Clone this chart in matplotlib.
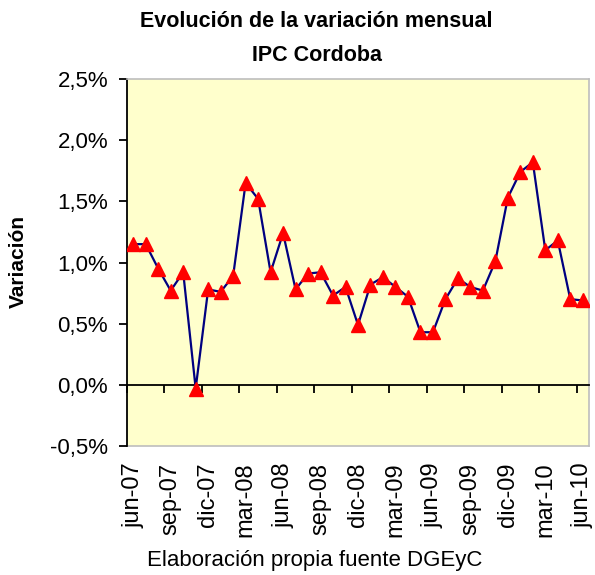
import matplotlib
matplotlib.use('Agg')
import matplotlib.pyplot as plt
import numpy as np
from matplotlib.ticker import FixedLocator, FuncFormatter

months = ['jun-07', 'jul-07', 'ago-07', 'sep-07', 'oct-07', 'nov-07', 'dic-07', 'ene-08', 'feb-08',
          'mar-08', 'abr-08', 'may-08', 'jun-08', 'jul-08', 'ago-08', 'sep-08', 'oct-08', 'nov-08',
          'dic-08', 'ene-09', 'feb-09', 'mar-09', 'abr-09', 'may-09', 'jun-09', 'jul-09', 'ago-09',
          'sep-09', 'oct-09', 'nov-09', 'dic-09', 'ene-10', 'feb-10', 'mar-10', 'abr-10', 'may-10',
          'jun-10']
variacion = [1.15, 1.15, 0.95, 0.77, 0.92, -0.03, 0.78, 0.76, 0.89, 1.65, 1.52, 0.92, 1.24,
             0.78, 0.91, 0.92, 0.73, 0.80, 0.49, 0.82, 0.88, 0.80, 0.72, 0.43, 0.43, 0.70,
             0.87, 0.80, 0.77, 1.01, 1.53, 1.74, 1.82, 1.10, 1.18, 0.70, 0.69]
yticks = [-0.5, 0.0, 0.5, 1.0, 1.5, 2.0, 2.5]

plt.rcParams['font.family'] = ['Liberation Sans', 'DejaVu Sans']

fig = plt.figure(figsize=(5.95, 5.75), dpi=100)
ax = fig.add_axes([127 / 595, 1 - 446 / 575, 462 / 595, 367 / 575])
ax.set_facecolor('#FFFFCC')

x = np.arange(len(months))
ax.plot(x, variacion, color='#000080', linewidth=1.6, marker='^', markersize=9.5,
        markerfacecolor='#FF0000', markeredgecolor='#FF0000', zorder=3)

ax.set_xlim(-0.5, len(months) - 0.5)
ax.set_ylim(-0.5, 2.5)

# eje x cruzando en 0 con marcas cada 3 meses
ax.spines['bottom'].set_position(('data', 0))
ax.spines['bottom'].set_color('black')
ax.spines['bottom'].set_linewidth(1.3)
ax.spines['left'].set_color('black')
ax.spines['left'].set_linewidth(1.3)
for s in ['top', 'right']:
  ax.spines[s].set_color('#BDBDBD')
  ax.spines[s].set_linewidth(1.2)
ax.xaxis.set_major_locator(FixedLocator(np.arange(-0.5, len(months) - 1, 3)))
ax.tick_params(axis='x', direction='out', length=5.5, width=1.3, labelbottom=False)

ax.yaxis.set_major_locator(FixedLocator(yticks))
ax.yaxis.set_major_formatter(FuncFormatter(lambda v, p: f"{v:.1f}%".replace('.', ',')))
ax.tick_params(axis='y', direction='out', length=5.5, width=1.3, labelsize=16, pad=8)

# etiquetas de fecha debajo del area
sec = ax.secondary_xaxis('bottom')
sec.set_xticks(x[::3])
sec.set_xticklabels(months[::3], rotation=90, fontsize=17)
sec.tick_params(length=0, pad=12)
sec.spines['bottom'].set_color('#BDBDBD')
sec.spines['bottom'].set_linewidth(1.2)

fig.text(18 / 595, 0.545, 'Variación', rotation=90, ha='center', va='center',
         fontsize=15, fontweight='bold')
fig.text(0.532, 0.962, 'Evolución de la variación mensual', ha='center', va='center',
         fontsize=15.5, fontweight='bold')
fig.text(0.532, 0.903, 'IPC Cordoba', ha='center', va='center', fontsize=15.5, fontweight='bold')
fig.text(0.529, 0.026, 'Elaboración propia fuente DGEyC', ha='center', va='center', fontsize=16)

fig.savefig('out.png', dpi=100)
